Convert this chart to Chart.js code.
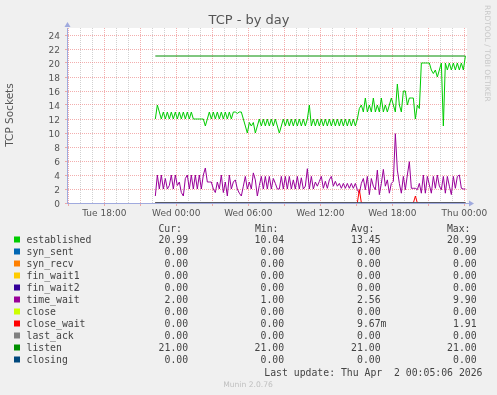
<!DOCTYPE html>
<html>
<head>
<meta charset="utf-8">
<script src="https://cdn.jsdelivr.net/npm/chart.js@4/dist/chart.umd.min.js"></script>
<style>
html, body { margin: 0; padding: 0; background: #f0f0f0; }
canvas { display: block; }
</style>
</head>
<body>
<canvas id="tcpChart" width="497" height="395"></canvas>
<script>
// hours counted from Tue 00:00, one sample every 10 minutes
const startHour = 22.25;
const stepHour = 1 / 6;
const endHour = 48.08;

const established = [
  12, 14, 13, 12, 13, 12, 13, 12, 13, 12,
  13, 12, 13, 12, 13, 12, 13, 12, 13, 12,
  12, 12, 12, 12, 12, 11, 12, 13, 12, 13,
  12, 13, 12, 13, 12, 13, 12, 13, 12, 13,
  13, 12.8, 13, 13, 12, 11, 10, 11.5, 11, 11.5,
  10, 11, 12, 11, 12, 11, 12, 11, 12, 11,
  12, 11, 10, 11, 12, 11, 12, 11, 12, 11,
  12, 11, 12, 11, 12, 11, 12, 14, 11, 12,
  11, 12, 11, 12, 11, 12, 11, 12, 11, 12,
  11, 12, 11, 12, 11, 12, 11, 12, 11, 12,
  11, 12, 13.5, 14, 13, 15, 13, 14, 13, 15,
  13, 14, 13, 15, 13, 14, 13, 14, 15, 14,
  13, 17, 14, 13, 16, 16, 14, 15, 15, 15,
  12, 14, 13.5, 20, 20, 20, 20, 20, 19, 18.5,
  19, 18, 19, 20, 11, 20, 19, 20, 19, 20,
  19, 20, 19, 20, 19, 20.99
];

const timeWait = [
  1, 4, 2, 4, 2, 3.5, 2, 2.5, 4, 2,
  4, 2.5, 3, 1.5, 1, 3.5, 4, 2, 4, 2,
  4, 2, 4, 2, 4, 5, 3, 3, 3, 2,
  1.5, 3, 2, 4, 1.5, 3, 1, 4, 2, 3,
  3.3, 2, 1.4, 1, 2.4, 3.8, 2, 3, 2, 4.3,
  3.3, 1, 2.5, 3.8, 2, 3.8, 2, 3.8, 2, 3.5,
  2.8, 2, 2, 3.8, 2, 3.8, 2, 3.8, 2, 3.3,
  2, 3.8, 2, 3.6, 2, 2.4, 4.9, 2, 3.8, 2,
  3, 2.4, 3.1, 3.8, 2.1, 3.1, 2.1, 3.3, 3.8, 2.4,
  3.1, 2.4, 2.8, 2.1, 2.8, 2.1, 2.8, 2.1, 2.8, 2.1,
  2.8, 1.9, 1.4, 2.8, 3.5, 1.9, 3.8, 1.2, 3.5, 2.4,
  1.9, 4.7, 1.2, 2.8, 4.8, 2.4, 3.3, 1.4, 2.8, 3.1,
  9.9, 4.7, 2.8, 1.4, 3.8, 1.9, 4, 5.9, 2.1, 2.1,
  2.1, 1.9, 2.8, 1.4, 4, 1.4, 3.8, 2.6, 1.4, 3.8,
  2.1, 4, 2.4, 1.9, 3.8, 1.4, 3.8, 2.4, 1.2, 3.8,
  2.1, 3.8, 4, 2.1, 2, 2
];

// close_wait is zero except two short spikes
const closeWaitHours = [22.25, 39.08, 39.25, 39.42, 43.75, 43.92, 44.08, 48.08];
const closeWaitVals = [0, 0, 1.91, 0, 0, 1, 0, 0];

// flat series: value at first and last sample
const flatHours = [startHour, endHour];
const listen = [21, 21];
const synSent = [0, 0];
const synRecv = [0, 0];
const finWait1 = [0, 0];
const finWait2 = [0, 0];
const closeState = [0, 0];
const lastAck = [0, 0];
const closing = [0, 0];

const seriesNames = ['established', 'syn_sent', 'syn_recv', 'fin_wait1', 'fin_wait2', 'time_wait',
  'close', 'close_wait', 'last_ack', 'listen', 'closing'];
const seriesColors = ['#00cc00', '#0066b3', '#ff8000', '#ffcc00', '#330099', '#990099',
  '#ccff00', '#ff0000', '#808080', '#008f00', '#00487d'];
const curVals = ['20.99', '0.00', '0.00', '0.00', '0.00', '2.00', '0.00', '0.00', '0.00', '21.00', '0.00'];
const minVals = ['10.04', '0.00', '0.00', '0.00', '0.00', '1.00', '0.00', '0.00', '0.00', '21.00', '0.00'];
const avgVals = ['13.45', '0.00', '0.00', '0.00', '0.00', '2.56', '0.00', '9.67m', '0.00', '21.00', '0.00'];
const maxVals = ['20.99', '0.00', '0.00', '0.00', '0.00', '9.90', '0.00', '1.91', '0.00', '21.00', '0.00'];

const xTickHours = [18, 24, 30, 36, 42, 48];
const xTickLabels = ['Tue 18:00', 'Wed 00:00', 'Wed 06:00', 'Wed 12:00', 'Wed 18:00', 'Thu 00:00'];
const yTickValues = [0, 2, 4, 6, 8, 10, 12, 14, 16, 18, 20, 22, 24];

const lastUpdate = 'Last update: Thu Apr  2 00:05:06 2026';
const muninVersion = 'Munin 2.0.76';

function sampled(vals) {
  return vals.map((v, i) => ({ x: startHour + i * stepHour, y: v }));
}
function paired(hours, vals) {
  return vals.map((v, i) => ({ x: hours[i], y: v }));
}

const seriesData = [
  sampled(established),
  paired(flatHours, synSent),
  paired(flatHours, synRecv),
  paired(flatHours, finWait1),
  paired(flatHours, finWait2),
  sampled(timeWait),
  paired(flatHours, closeState),
  paired(closeWaitHours, closeWaitVals),
  paired(flatHours, lastAck),
  paired(flatHours, listen),
  paired(flatHours, closing)
];

const redGrid = 'rgba(235, 120, 120, 0.6)';
const greyGrid = 'rgba(185, 185, 185, 0.65)';
const axisColor = '#a0aade';
const sans = '"DejaVu Sans", sans-serif';
const mono = '"DejaVu Sans Mono", monospace';

const muninFrame = {
  id: 'muninFrame',
  beforeDraw(chart) {
    const { ctx, chartArea: a } = chart;
    ctx.save();
    ctx.fillStyle = '#f0f0f0';
    ctx.fillRect(0, 0, chart.width, chart.height);
    ctx.fillStyle = '#ffffff';
    ctx.fillRect(a.left, a.top, a.right - a.left, a.bottom - a.top);
    ctx.restore();
  },
  afterDraw(chart) {
    const { ctx, chartArea: a } = chart;
    ctx.save();

    // arrows on the axes
    ctx.fillStyle = axisColor;
    ctx.beginPath();
    ctx.moveTo(a.left + 0.5, a.top - 6);
    ctx.lineTo(a.left - 2.5, a.top - 1);
    ctx.lineTo(a.left + 3.5, a.top - 1);
    ctx.fill();
    ctx.strokeStyle = axisColor;
    ctx.lineWidth = 1;
    ctx.beginPath();
    ctx.moveTo(a.right, a.bottom + 0.5);
    ctx.lineTo(a.right + 2, a.bottom + 0.5);
    ctx.stroke();
    ctx.beginPath();
    ctx.moveTo(a.right + 7, a.bottom + 0.5);
    ctx.lineTo(a.right + 2, a.bottom - 2.5);
    ctx.lineTo(a.right + 2, a.bottom + 3.5);
    ctx.fill();

    // title
    ctx.fillStyle = '#555555';
    ctx.font = '13px ' + sans;
    ctx.textAlign = 'center';
    ctx.textBaseline = 'middle';
    ctx.fillText('TCP - by day', 249, 20.5);

    // vertical axis title
    ctx.save();
    ctx.translate(10, 115);
    ctx.rotate(-Math.PI / 2);
    ctx.font = '10.5px ' + sans;
    ctx.fillText('TCP Sockets', 0, 0);
    ctx.restore();

    // rrdtool credit
    ctx.save();
    ctx.translate(487, 5);
    ctx.rotate(Math.PI / 2);
    ctx.textAlign = 'left';
    ctx.fillStyle = '#c8c8c8';
    ctx.font = '7.5px ' + sans;
    ctx.fillText('RRDTOOL / TOBI OETIKER', 0, 0);
    ctx.restore();

    // legend table
    ctx.font = '9.8px ' + mono;
    ctx.fillStyle = '#444444';
    ctx.textAlign = 'right';
    const heads = ['Cur:', 'Min:', 'Avg:', 'Max:'];
    const headRight = [182, 278.5, 374.5, 470.5];
    const colRight = [194, 290, 386.5, 482.5];
    heads.forEach((h, j) => ctx.fillText(h, headRight[j], 229.5));
    const cols = [curVals, minVals, avgVals, maxVals];
    seriesNames.forEach((name, i) => {
      const y = 240.5 + i * 12;
      ctx.fillStyle = seriesColors[i];
      ctx.fillRect(14, y - 4, 6, 6);
      ctx.fillStyle = '#444444';
      ctx.textAlign = 'left';
      ctx.fillText(name, 26.5, y);
      ctx.textAlign = 'right';
      cols.forEach((c, j) => {
        const s = c[i].endsWith('m') ? c[i] : c[i] + ' ';
        ctx.fillText(s, colRight[j], y);
      });
    });
    ctx.fillText(lastUpdate, 482.5, 373);

    ctx.textAlign = 'center';
    ctx.fillStyle = '#c0c0c0';
    ctx.font = '7.6px ' + sans;
    ctx.fillText(muninVersion, 248, 385.5);

    ctx.restore();
  }
};

new Chart(document.getElementById('tcpChart'), {
  type: 'line',
  data: {
    datasets: seriesNames.map((name, i) => ({
      label: name,
      data: seriesData[i],
      borderColor: seriesColors[i],
      backgroundColor: seriesColors[i],
      borderWidth: 1,
      pointRadius: 0,
      tension: 0,
      fill: false,
      order: seriesNames.length - i
    }))
  },
  options: {
    responsive: false,
    animation: false,
    devicePixelRatio: 1,
    layout: { padding: { left: 0, right: 30, top: 28, bottom: 0 } },
    plugins: {
      legend: { display: false },
      title: { display: false },
      tooltip: { enabled: false }
    },
    scales: {
      x: {
        type: 'linear',
        min: 14.89,
        max: 48.22,
        afterFit: (s) => { s.height = 192; },
        afterBuildTicks: (s) => {
          const t = [];
          for (let h = 15; h <= 48; h++) t.push({ value: h });
          s.ticks = t;
        },
        grid: {
          drawTicks: true,
          tickLength: 3,
          tickColor: (c) => (c.tick && c.tick.value % 3 === 0 ? redGrid : 'rgba(0,0,0,0)'),
          color: (c) => (c.tick && c.tick.value % 3 === 0 ? redGrid : greyGrid),
          lineWidth: 1
        },
        border: { display: true, color: axisColor, width: 1, dash: [1, 1] },
        ticks: {
          autoSkip: false,
          maxRotation: 0,
          padding: 2,
          color: '#555555',
          font: { family: sans, size: 9 },
          callback: (v) => {
            const k = xTickHours.indexOf(v);
            return k >= 0 ? xTickLabels[k] : '';
          }
        }
      },
      y: {
        type: 'linear',
        min: 0,
        max: 25,
        afterFit: (s) => { s.width = 67; },
        grid: {
          drawTicks: true,
          tickLength: 2,
          tickColor: (c) => (c.tick && c.tick.value % 2 === 0 ? redGrid : 'rgba(0,0,0,0)'),
          color: (c) => (c.tick && (c.tick.value % 2 === 0 || c.tick.value === 25) ? redGrid : greyGrid),
          lineWidth: 1
        },
        border: { display: true, color: axisColor, width: 1, dash: [1, 1] },
        ticks: {
          stepSize: 1,
          padding: 5,
          labelOffset: 1.5,
          color: '#555555',
          font: { family: sans, size: 9 },
          callback: (v) => (yTickValues.includes(v) ? String(v) : '')
        }
      }
    }
  },
  plugins: [muninFrame]
});
</script>
</body>
</html>
